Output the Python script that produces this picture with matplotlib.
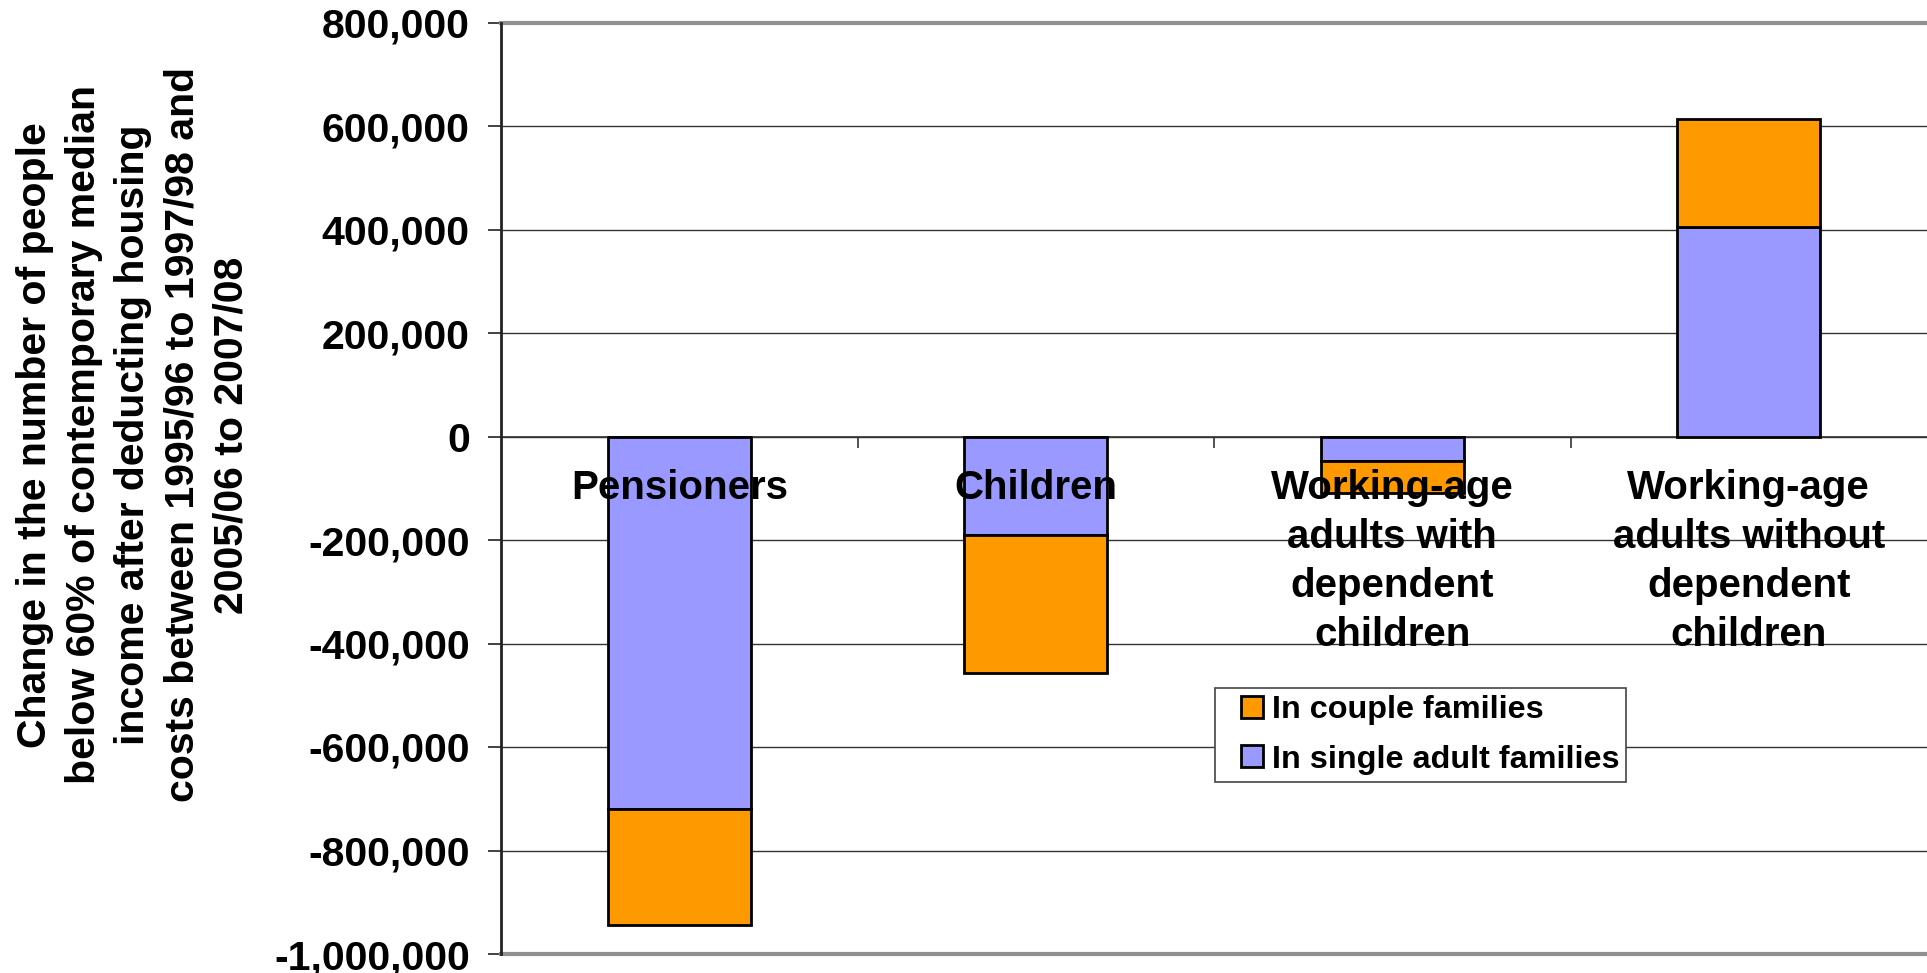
import numpy as np
import matplotlib
matplotlib.use("Agg")
import matplotlib.pyplot as plt
from matplotlib.patches import Rectangle
from matplotlib.legend_handler import HandlerPatch

plt.rcParams['font.family'] = ['Liberation Sans', 'DejaVu Sans']
plt.rcParams['font.weight'] = 'bold'

# data
categories = ["Pensioners", "Children",
              "Working-age\nadults with\ndependent\nchildren",
              "Working-age\nadults without\ndependent\nchildren"]
single_adult = [-719000, -190000, -48000, 405000]
couple = [-224000, -267000, -62000, 209000]
yticks = [800000, 600000, 400000, 200000, 0, -200000, -400000,
          -600000, -800000, -1000000]
ytick_labels = ["800,000", "600,000", "400,000", "200,000", "0", "-200,000",
                "-400,000", "-600,000", "-800,000", "-1,000,000"]
ylabel = ("Change in the number of people\nbelow 60% of contemporary median\n"
          "income after deducting housing\ncosts between 1995/96 to 1997/98 and\n"
          "2005/06 to 2007/08")

ORANGE = "#FF9900"
LAVENDER = "#9999FF"

fig = plt.figure(figsize=(19.27, 9.73), dpi=100)
ax = fig.add_axes([501/1927, 1-954/973, 1-501/1927, (954-22.5)/973])

x = np.arange(len(categories))
w = 0.40
ax.bar(x, single_adult, w, color=LAVENDER, edgecolor="black", linewidth=2,
       zorder=3)
ax.bar(x, couple, w, bottom=single_adult, color=ORANGE, edgecolor="black",
       linewidth=2, zorder=3)

ax.set_xlim(-0.5, 3.5)
ax.set_ylim(-1000000, 800000)
ax.set_yticks(yticks)
ax.set_yticklabels(ytick_labels, fontsize=29.5, fontweight='bold')
ax.tick_params(axis='y', direction='out', length=9.5, width=1.2, pad=13,
               color='#222222')
ax.yaxis.grid(True, color='#333333', linewidth=1.0, zorder=0)
ax.set_axisbelow(True)

# zero line acts as category axis
for s in ['top', 'right']:
    ax.spines[s].set_visible(False)
ax.spines['left'].set_linewidth(2)
ax.spines['left'].set_color('#222222')
ax.spines['bottom'].set_position(('data', 0))
ax.spines['bottom'].set_color('#333333')
ax.spines['bottom'].set_linewidth(1.2)
ax.spines['bottom'].set_zorder(1)
ax.set_xticks([0.5, 1.5, 2.5])
ax.set_xticklabels([])
ax.tick_params(axis='x', direction='out', length=8, width=1.2, color='#333333')

# gray plot-area frame at top and bottom
ax.axhline(800000, color='#909090', linewidth=3, zorder=2, clip_on=False)
ax.axhline(-1000000, color='#909090', linewidth=3, zorder=2, clip_on=False)

for xi, name in zip(x, categories):
    ax.text(xi, -63000, name, ha='center', va='top', fontsize=29,
            fontweight='bold', linespacing=1.36, zorder=5)

fig.text(133/1927, 1-435/973, ylabel, rotation=90, ha='center', va='center',
         fontsize=29.5, fontweight='bold', multialignment='center',
         linespacing=1.37)


def square_patch(legend, orig_handle, xdescent, ydescent, width, height, fontsize):
    sq = 0.68 * fontsize
    return Rectangle((-xdescent + width - sq, -ydescent + (height - sq) / 2), sq, sq)


h = [Rectangle((0, 0), 1, 1, facecolor=ORANGE, edgecolor='black', linewidth=2),
     Rectangle((0, 0), 1, 1, facecolor=LAVENDER, edgecolor='black', linewidth=2)]
l = ["In couple families", "In single adult families"]
leg = fig.legend(h, l, loc='upper left',
                 bbox_to_anchor=(1215/1927, 1-688/973),
                 prop={'weight': 'bold', 'size': 23.3}, fancybox=False,
                 edgecolor='#444444', framealpha=1, handlelength=1.25,
                 handleheight=0.7, handletextpad=0.28, labelspacing=0.6,
                 borderpad=0.22, borderaxespad=0,
                 handler_map={Rectangle: HandlerPatch(patch_func=square_patch)})
leg.get_frame().set_linewidth(1.2)

fig.savefig("out.png", dpi=100)
